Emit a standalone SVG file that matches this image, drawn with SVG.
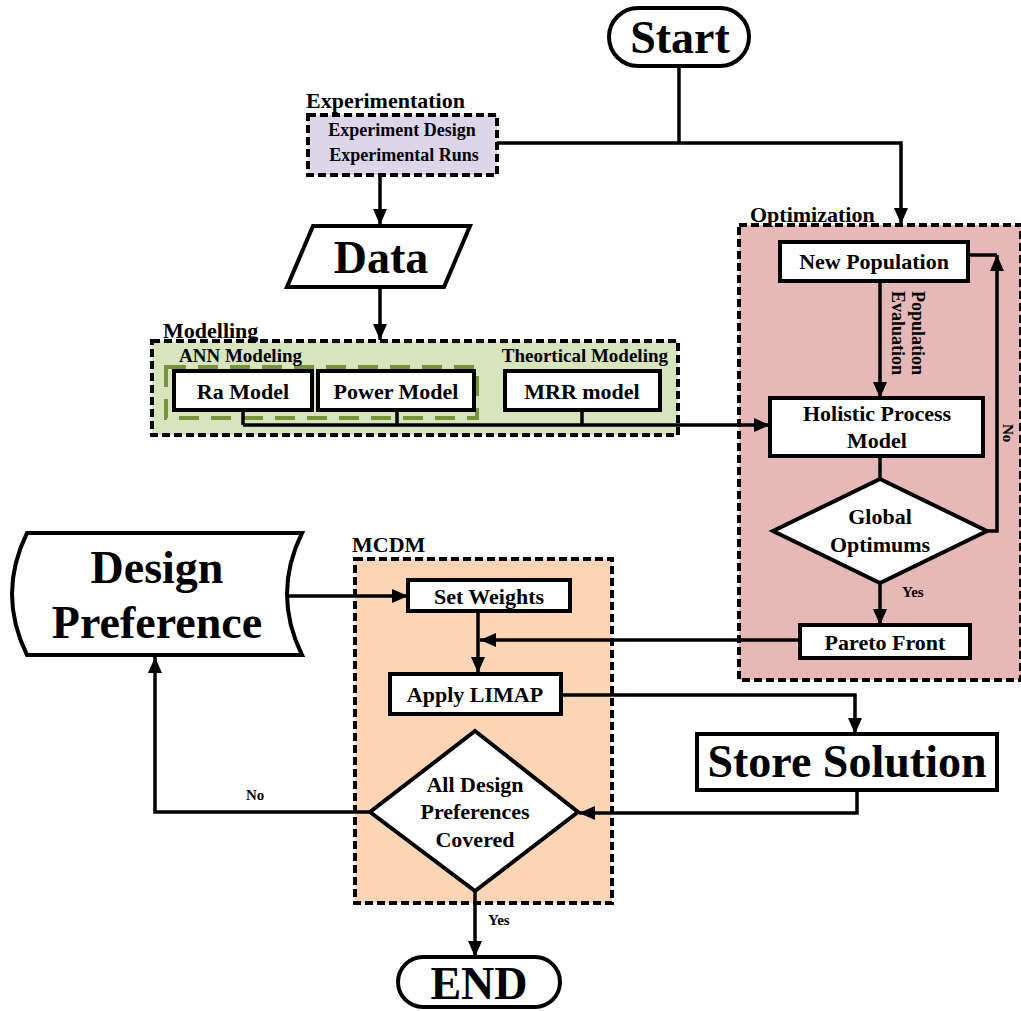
<svg xmlns="http://www.w3.org/2000/svg" width="1021" height="1011" viewBox="0 0 1021 1011">
<defs>
<marker id="ah" viewBox="0 0 16 14" refX="16" refY="7" markerWidth="16" markerHeight="14" markerUnits="userSpaceOnUse" orient="auto">
<path d="M0,0 L16,7 L0,14 Z" fill="#000"/>
</marker>
<style>
text{font-family:"Liberation Serif","Times New Roman",serif;font-weight:bold;fill:#000}
.box{fill:#fff;stroke:#000;stroke-width:4}
.grp{stroke:#000;stroke-width:4;stroke-dasharray:8 4}
.big{font-size:46px;text-anchor:middle}
.bt{font-size:22px;text-anchor:middle}
.gl{font-size:22px}
.sm{font-size:15px}
.con{fill:none;stroke:#000;stroke-width:3.5}
</style>
</defs>
<rect width="1021" height="1011" fill="#fff"/>

<g id="group-experimentation">
<rect class="grp" x="308" y="115" width="189" height="60" fill="#ddd5e8"/>
<text class="gl" x="306" y="108">Experimentation</text>
<text x="402" y="136" font-size="18" text-anchor="middle">Experiment Design</text>
<text x="404" y="161" font-size="18" text-anchor="middle">Experimental Runs</text>
</g>

<g id="group-modelling">
<rect class="grp" x="152" y="341" width="526" height="94" fill="#d7e4bd"/>
<text class="gl" x="163" y="338">Modelling</text>
<rect x="166" y="367" width="311" height="51" fill="none" stroke="#77933c" stroke-width="4" stroke-dasharray="20 12"/>
<text x="179" y="362" font-size="19">ANN Modeling</text>
<text x="668" y="362" font-size="19" text-anchor="end">Theortical Modeling</text>
</g>

<g id="group-optimization">
<rect class="grp" x="739" y="225" width="282" height="455" fill="#e6b8b7"/>
<text class="gl" x="750" y="222">Optimization</text>
</g>

<g id="group-mcdm">
<rect class="grp" x="355" y="559" width="257" height="344" fill="#fbd5b5"/>
<text class="gl" x="352" y="552">MCDM</text>
</g>

<g id="connectors">
<path class="con" d="M679,66 V143"/>
<path class="con" d="M497,143 H901 V224" marker-end="url(#ah)"/>
<path class="con" d="M380,175 V225" marker-end="url(#ah)"/>
<path class="con" d="M380,287 V340" marker-end="url(#ah)"/>
<path class="con" d="M243,410 V425 M397,410 V425 M582,410 V425"/>
<path class="con" d="M243,425 H770" marker-end="url(#ah)"/>
<path class="con" d="M880,281 V398" marker-end="url(#ah)"/>
<path class="con" d="M880,456 V479"/>
<path class="con" d="M987,531 H997 V255" marker-end="url(#ah)"/>
<path class="con" d="M997,255 H968"/>
<path class="con" d="M880,583 V625" marker-end="url(#ah)"/>
<path class="con" d="M800,640 H480" marker-end="url(#ah)"/>
<path class="con" d="M478,611 V673" marker-end="url(#ah)"/>
<path class="con" d="M288,596 H408" marker-end="url(#ah)"/>
<path class="con" d="M561,695 H855 V734" marker-end="url(#ah)"/>
<path class="con" d="M857,790 V813 H579" marker-end="url(#ah)"/>
<path class="con" d="M370,812 H155 V657" marker-end="url(#ah)"/>
<path class="con" d="M475,891 V957" marker-end="url(#ah)"/>
<text x="892" y="333" transform="rotate(90 892 333)" font-size="18" text-anchor="middle">Evaluation</text>
<text x="912" y="333" transform="rotate(90 912 333)" font-size="18" text-anchor="middle">Population</text>
<text class="sm" x="1003" y="424" transform="rotate(90 1003 424)">No</text>
<text class="sm" x="902" y="597">Yes</text>
<text class="sm" x="246" y="800">No</text>
<text class="sm" x="488" y="925">Yes</text>
</g>

<g id="node-start">
<rect class="box" x="609" y="8" width="140" height="58" rx="29"/>
<text class="big" x="680" y="53">Start</text>
</g>

<g id="node-data">
<path class="box" d="M313,226 H470 L444,287 H287 Z"/>
<text class="big" x="381" y="273">Data</text>
</g>

<g id="node-ra">
<rect class="box" x="174" y="371" width="138" height="39"/>
<text class="bt" x="243" y="399">Ra Model</text>
</g>
<g id="node-power">
<rect class="box" x="318" y="371" width="156" height="39"/>
<text class="bt" x="396" y="399">Power Model</text>
</g>
<g id="node-mrr">
<rect class="box" x="505" y="371" width="155" height="39"/>
<text class="bt" x="582" y="399">MRR model</text>
</g>

<g id="node-newpop">
<rect class="box" x="780" y="242" width="188" height="39"/>
<text class="bt" x="874" y="269">New Population</text>
</g>

<g id="node-holistic">
<rect class="box" x="770" y="398" width="213" height="58"/>
<text class="bt" x="877" y="421">Holistic Process</text>
<text class="bt" x="877" y="448">Model</text>
</g>

<g id="node-global">
<path class="box" d="M880,479 L987,531 L880,583 L773,531 Z"/>
<text class="bt" x="880" y="524">Global</text>
<text class="bt" x="880" y="552">Optimums</text>
</g>

<g id="node-pareto">
<rect class="box" x="800" y="625" width="170" height="33"/>
<text class="bt" x="885" y="650">Pareto Front</text>
</g>

<g id="node-design-pref">
<path class="box" d="M27,533 H302 Q272,594 302,655 H27 Q-3,594 27,533 Z"/>
<text class="big" x="157" y="583">Design</text>
<text class="big" x="157" y="638">Preference</text>
</g>

<g id="node-setweights">
<rect class="box" x="408" y="580" width="162" height="31"/>
<text class="bt" x="489" y="604">Set Weights</text>
</g>

<g id="node-limap">
<rect class="box" x="390" y="674" width="171" height="40"/>
<text class="bt" x="475" y="702">Apply LIMAP</text>
</g>

<g id="node-store">
<rect class="box" x="697" y="734" width="300" height="56"/>
<text class="big" x="847" y="777">Store Solution</text>
</g>

<g id="node-covered">
<path class="box" d="M475,731 L578,812 L475,891 L370,812 Z"/>
<text class="bt" x="475" y="792">All Design</text>
<text class="bt" x="475" y="819">Preferences</text>
<text class="bt" x="475" y="847">Covered</text>
</g>

<g id="node-end">
<rect class="box" x="398" y="957" width="162" height="50" rx="25"/>
<text class="big" x="479" y="999">END</text>
</g>
</svg>
